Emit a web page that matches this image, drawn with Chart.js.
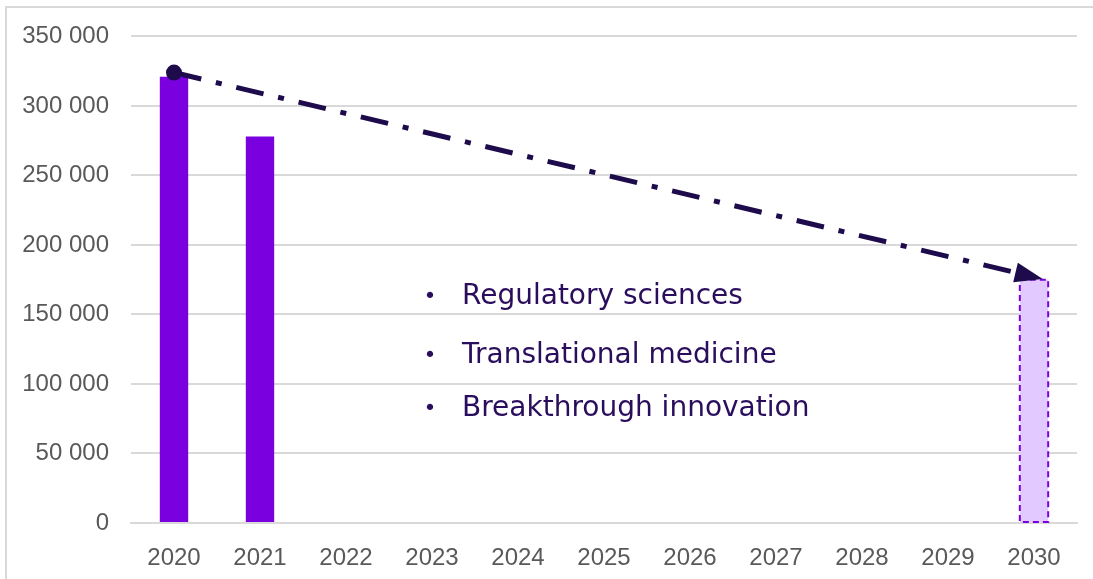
<!DOCTYPE html>
<html>
<head>
<meta charset="utf-8">
<script src="https://cdn.jsdelivr.net/npm/chart.js@4/dist/chart.umd.min.js"></script>
<style>
  html, body { margin: 0; padding: 0; background: #fff; }
  #wrap { position: relative; width: 1093px; height: 579px; }
  #frame { position: absolute; left: 5px; top: 6px; right: 0; bottom: 0;
           border-left: 2px solid #d9d9d9; border-top: 2px solid #d9d9d9; }
</style>
</head>
<body>
<div id="wrap">
  <div id="frame"></div>
  <canvas id="chart" width="1093" height="579"></canvas>
</div>
<script>
const years = ['2020', '2021', '2022', '2023', '2024', '2025', '2026', '2027', '2028', '2029', '2030'];
const actual = [321000, 278000, null, null, null, null, null, null, null, null, null];
const target = [null, null, null, null, null, null, null, null, null, null, 175000];
const trend = [324000, null, null, null, null, null, null, null, null, null, 177000];
const notes = ['Regulatory sciences', 'Translational medicine', 'Breakthrough innovation'];

const lineColor = '#1e0b4b';

// arrow at the end of the trend line + dashed outline on the target bar + bullet text
const extras = {
    id: 'extras',
    afterDatasetsDraw(chart) {
        const ctx = chart.ctx;

        // dashed border on 2030 bar
        const tb = chart.getDatasetMeta(1).data[10];
        if (tb) {
            const w = tb.width;
            ctx.save();
            ctx.strokeStyle = '#7a00e0';
            ctx.lineWidth = 2;
            ctx.setLineDash([6, 4]);
            ctx.strokeRect(tb.x - w / 2, tb.y, w, tb.base - tb.y);
            ctx.restore();
        }

        // arrow head
        const pts = chart.getDatasetMeta(2).data;
        const a = pts[0], b = pts[10];
        const ang = Math.atan2(b.y - a.y, b.x - a.x);
        const len = 28, half = 10;
        ctx.save();
        ctx.translate(b.x + 9 * Math.cos(ang), b.y + 9 * Math.sin(ang));
        ctx.rotate(ang);
        ctx.fillStyle = lineColor;
        ctx.beginPath();
        ctx.moveTo(0, 0);
        ctx.lineTo(-len, -half);
        ctx.lineTo(-len, half);
        ctx.closePath();
        ctx.fill();
        ctx.restore();

        // bullet list
        const x = chart.scales.x;
        const bx = x.getPixelForValue(3) - 2;
        const tops = [297, 356, 409];
        ctx.save();
        ctx.fillStyle = '#2a0d5c';
        ctx.textBaseline = 'middle';
        notes.forEach((t, i) => {
            ctx.font = '22px "DejaVu Sans", Verdana, sans-serif';
            ctx.textAlign = 'center';
            ctx.fillText('•', bx, tops[i]);
            ctx.font = '28px "DejaVu Sans", Verdana, sans-serif';
            ctx.textAlign = 'left';
            ctx.fillText(t, bx + 32, tops[i]);
        });
        ctx.restore();
    }
};

new Chart(document.getElementById('chart'), {
    data: {
        labels: years,
        datasets: [
            {
                type: 'bar',
                label: 'Actual',
                data: actual,
                backgroundColor: '#7a00e0',
                categoryPercentage: 1,
                barPercentage: 0.33,
                grouped: false,
                order: 2
            },
            {
                type: 'bar',
                label: 'Target',
                data: target,
                backgroundColor: '#e2c9ff',
                categoryPercentage: 1,
                barPercentage: 0.33,
                grouped: false,
                order: 1
            },
            {
                type: 'line',
                label: 'Trend',
                data: trend,
                spanGaps: true,
                borderColor: lineColor,
                borderWidth: 5,
                borderDash: [28, 15, 6, 15],
                borderCapStyle: 'butt',
                pointRadius: [8, 0, 0, 0, 0, 0, 0, 0, 0, 0, 0],
                pointBackgroundColor: lineColor,
                pointBorderWidth: 0,
                order: 0
            }
        ]
    },
    options: {
        responsive: false,
        animation: false,
        layout: { padding: { top: 35, right: 16, left: 0, bottom: 0 } },
        plugins: {
            legend: { display: false },
            tooltip: { enabled: false }
        },
        scales: {
            x: {
                grid: { display: false },
                border: { color: '#d9d9d9', width: 2 },
                ticks: {
                    color: '#595959',
                    font: { family: '"Liberation Sans", Arial', size: 24 },
                    padding: 13,
                    maxRotation: 0
                },
                afterFit(s) { s.height = 56; }
            },
            y: {
                min: 0,
                max: 350000,
                grid: { color: '#d9d9d9', lineWidth: 2, drawTicks: false },
                border: { display: false },
                ticks: {
                    stepSize: 50000,
                    color: '#595959',
                    font: { family: '"Liberation Sans", Arial', size: 24 },
                    padding: 22,
                    callback: v => v.toLocaleString('en-US').replace(/,/g, ' ')
                },
                afterFit(s) { s.width = 131; }
            }
        }
    },
    plugins: [extras]
});
</script>
</body>
</html>
